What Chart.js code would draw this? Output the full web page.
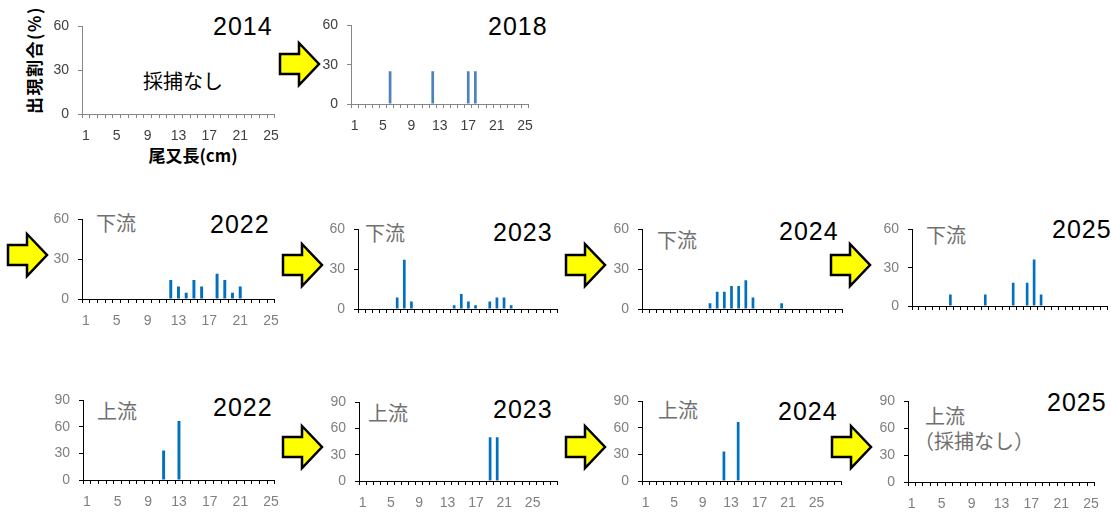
<!DOCTYPE html>
<html>
<head>
<meta charset="utf-8">
<script src="https://cdn.jsdelivr.net/npm/chart.js@4.4.1/dist/chart.umd.min.js"></script>
<style>
  body { margin:0; background:#fff; width:1111px; height:512px; overflow:hidden; position:relative; }
  .box { position:absolute; overflow:hidden; }
  .yr { position:absolute; font-family:"Liberation Sans", sans-serif; font-size:25px; line-height:25px; letter-spacing:1px; color:#000; white-space:nowrap; }
  .jp { position:absolute; font-family:"Noto Sans CJK JP", sans-serif; font-size:20px; line-height:20px; color:#707070; white-space:nowrap; }
  .ttl { position:absolute; font-family:"Noto Sans CJK JP", sans-serif; font-size:17px; line-height:20px; font-weight:bold; color:#000; white-space:nowrap; text-align:center; }
</style>
</head>
<body>
<svg id="arrows" width="1111" height="512" style="position:absolute;left:0;top:0;z-index:5"></svg>

<div class="ttl" style="left:-26px;top:50px;width:120px;transform:rotate(-90deg);letter-spacing:1.5px;">出現割合(%)</div>
<div class="ttl" style="left:133px;top:145px;width:120px;">尾又長(cm)</div>
<div class="jp" style="left:143px;top:71px;color:#000;">採捕なし</div>

<div class="yr" style="left:213px;top:14px;">2014</div>
<div class="yr" style="left:488px;top:14px;">2018</div>

<div class="jp" style="left:96px;top:213px;">下流</div>
<div class="yr" style="left:210px;top:212px;">2022</div>
<div class="jp" style="left:365px;top:223px;">下流</div>
<div class="yr" style="left:493px;top:220px;">2023</div>
<div class="jp" style="left:657px;top:230px;">下流</div>
<div class="yr" style="left:779px;top:219px;">2024</div>
<div class="jp" style="left:926px;top:225px;">下流</div>
<div class="yr" style="left:1052px;top:217px;">2025</div>

<div class="jp" style="left:97px;top:401px;">上流</div>
<div class="yr" style="left:213px;top:395px;">2022</div>
<div class="jp" style="left:368px;top:403px;">上流</div>
<div class="yr" style="left:493px;top:397px;">2023</div>
<div class="jp" style="left:658px;top:400px;">上流</div>
<div class="yr" style="left:778px;top:399px;">2024</div>
<div class="jp" style="left:925px;top:406px;">上流</div>
<div class="jp" style="left:914px;top:431px;">（採捕なし）</div>
<div class="yr" style="left:1047px;top:390px;">2025</div>

<script>
// length classes (cm)
var cats25 = ['1','2','3','4','5','6','7','8','9','10','11','12','13','14','15','16','17','18','19','20','21','22','23','24','25'];
var cats28 = ['1','2','3','4','5','6','7','8','9','10','11','12','13','14','15','16','17','18','19','20','21','22','23','24','25','26','27','28'];

// y axis ticks
var ticks60 = [0, 30, 60];
var ticks90 = [0, 30, 60, 90];

// appearance ratio (%)
var all2014  = [0,0,0,0,0,0,0,0,0,0,0,0,0,0,0,0,0,0,0,0,0,0,0,0,0];
var all2018  = [0,0,0,0,0,25,0,0,0,0,0,25,0,0,0,0,25,25,0,0,0,0,0,0,0];
var down2022 = [0,0,0,0,0,0,0,0,0,0,0,14.3,9.5,4.8,14.3,9.5,0,19.0,14.3,4.8,9.5,0,0,0,0];
var down2023 = [0,0,0,0,0,8.6,37.1,5.7,0,0,0,0,0,2.9,11.4,5.7,2.9,0,5.7,8.6,8.6,2.9,0,0,0,0,0,0];
var down2024 = [0,0,0,0,0,0,0,0,0,4.3,13.0,13.0,17.4,17.4,21.7,8.7,0,0,0,4.3,0,0,0,0,0,0,0,0];
var down2025 = [0,0,0,0,0,9.1,0,0,0,0,9.1,0,0,0,18.2,0,18.2,36.4,9.1,0,0,0,0,0,0,0,0,0];
var up2022   = [0,0,0,0,0,0,0,0,0,0,33.3,0,66.7,0,0,0,0,0,0,0,0,0,0,0,0];
var up2023   = [0,0,0,0,0,0,0,0,0,0,0,0,0,0,0,0,0,0,50,50,0,0,0,0,0,0,0,0];
var up2024   = [0,0,0,0,0,0,0,0,0,0,0,33.3,0,66.7,0,0,0,0,0,0,0,0,0,0,0,0,0,0];
var up2025   = [0,0,0,0,0,0,0,0,0,0,0,0,0,0,0,0,0,0,0,0,0,0,0,0,0];

var panels = [
  {x0:82,  x1:283,  yT:19,  yZ:114, ticks:ticks60, cats:cats25, data:all2014,  color:'#4F81BD', old:true},
  {x0:351, x1:537,  yT:18,  yZ:104, ticks:ticks60, cats:cats25, data:all2018,  color:'#4F81BD', old:true},
  {x0:82,  x1:283,  yT:212, yZ:299, ticks:ticks60, cats:cats25, data:down2022, color:'#0070C0'},
  {x0:358, x1:558,  yT:222, yZ:309, ticks:ticks60, cats:cats28, data:down2023, color:'#0070C0', clip:323},
  {x0:642, x1:843,  yT:222, yZ:309, ticks:ticks60, cats:cats28, data:down2024, color:'#0070C0', clip:323},
  {x0:912, x1:1108, yT:222, yZ:306, ticks:ticks60, cats:cats28, data:down2025, color:'#0070C0', clip:320},
  {x0:83,  x1:283,  yT:393, yZ:480, ticks:ticks90, cats:cats25, data:up2022,   color:'#0070C0'},
  {x0:359, x1:558,  yT:395, yZ:481, ticks:ticks90, cats:cats28, data:up2023,   color:'#0070C0'},
  {x0:642, x1:842,  yT:394, yZ:481, ticks:ticks90, cats:cats28, data:up2024,   color:'#0070C0'},
  {x0:908, x1:1103, yT:394, yZ:482, ticks:ticks90, cats:cats25, data:up2025,   color:'#0070C0'}
];

function addPanel(p) {
  var padTop = 10, padRight = 6, yw = 40, xh = 32;
  var box = document.createElement('div');
  var cv = document.createElement('canvas');
  var left = p.x0 - yw, top = p.yT - padTop;
  var w = p.x1 - p.x0 + yw + padRight;
  var h = p.yZ + xh - top;
  cv.width = w; cv.height = h;
  box.className = 'box';
  box.style.left = left + 'px'; box.style.top = top + 'px';
  box.style.width = w + 'px';
  box.style.height = ((p.clip ? p.clip : p.yZ + xh) - top) + 'px';
  box.appendChild(cv);
  document.body.appendChild(box);

  var axisColor = p.old ? '#868686' : '#000000';
  var labelColor = p.old ? '#404040' : '#7F7F7F';
  var top_ = p.ticks[p.ticks.length - 1];

  new Chart(cv, {
    type: 'bar',
    data: {
      labels: p.cats,
      datasets: [{ data: p.data, backgroundColor: p.color, barPercentage: 0.38, categoryPercentage: 1 }]
    },
    options: {
      responsive: false,
      animation: false,
      devicePixelRatio: 1,
      layout: { padding: { top: padTop, right: padRight, left: 0, bottom: 0 } },
      plugins: { legend: { display: false }, tooltip: { enabled: false } },
      scales: {
        x: {
          grid: { drawOnChartArea: false, drawTicks: true, tickLength: 4, color: axisColor, offset: true },
          border: { display: true, color: axisColor },
          ticks: {
            autoSkip: false, maxRotation: 0, color: labelColor, padding: 10,
            font: { family: 'Liberation Sans', size: 14 },
            callback: function (v, i) { return i % 4 === 0 ? this.getLabelForValue(v) : ''; }
          },
          afterFit: function (s) { s.height = xh; }
        },
        y: {
          min: 0, max: top_,
          afterBuildTicks: function (s) { s.ticks = p.ticks.map(function (t) { return { value: t }; }); },
          grid: { drawOnChartArea: false, drawTicks: true, tickLength: 4, color: axisColor },
          border: { display: true, color: axisColor },
          ticks: { color: labelColor, padding: 9, font: { family: 'Liberation Sans', size: 14 } },
          afterFit: function (s) { s.width = yw; }
        }
      }
    }
  });
}

panels.forEach(addPanel);

// yellow arrows between panels (tip x, centre y)
var arrowTips = [[319, 64], [47, 255], [322, 265], [605, 265], [870, 265], [322, 447], [605, 447], [871, 447]];
var svg = document.getElementById('arrows');
arrowTips.forEach(function (a) {
  var tx = a[0], ty = a[1];
  var pts = [
    [tx - 39, ty - 10], [tx - 20, ty - 10], [tx - 20, ty - 21], [tx, ty],
    [tx - 20, ty + 21], [tx - 20, ty + 10], [tx - 39, ty + 10]
  ].map(function (q) { return q[0] + ',' + q[1]; }).join(' ');
  var poly = document.createElementNS('http://www.w3.org/2000/svg', 'polygon');
  poly.setAttribute('points', pts);
  poly.setAttribute('fill', '#FFFF00');
  poly.setAttribute('stroke', '#000');
  poly.setAttribute('stroke-width', '2.5');
  svg.appendChild(poly);
});
</script>
</body>
</html>
